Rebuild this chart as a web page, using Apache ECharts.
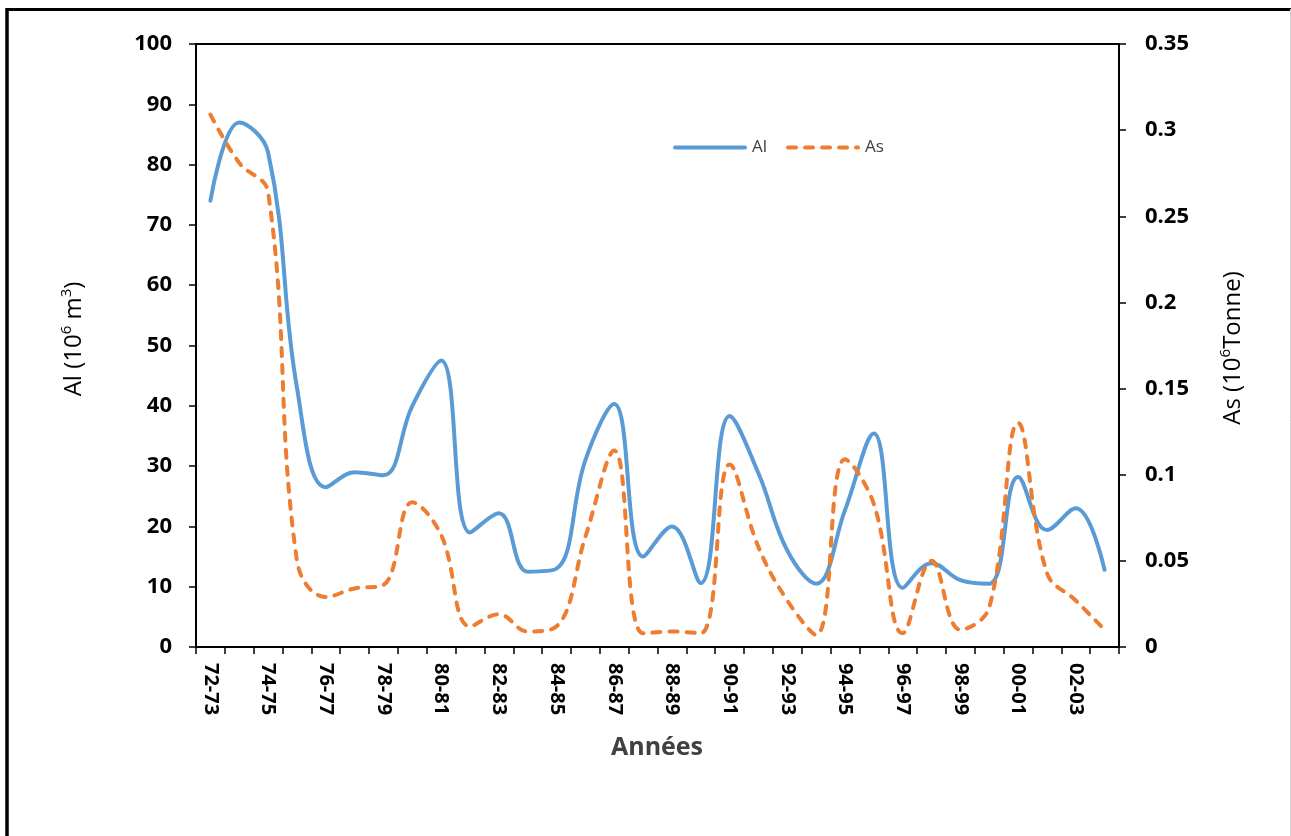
<!DOCTYPE html>
<html>
<head>
<meta charset="utf-8">
<script src="https://cdn.jsdelivr.net/npm/echarts@6/dist/echarts.min.js"></script>
<style>
  html, body { margin: 0; padding: 0; background: #fff; }
  #chart { width: 1291px; height: 836px; }
</style>
</head>
<body>
<div id="chart"></div>
<script>
// Hydrological years
const years = ['72-73','73-74','74-75','75-76','76-77','77-78','78-79','79-80','80-81','81-82',
  '82-83','83-84','84-85','85-86','86-87','87-88','88-89','89-90','90-91','91-92',
  '92-93','93-94','94-95','95-96','96-97','97-98','98-99','99-00','00-01','01-02',
  '02-03','03-04'];

// Al (10^6 m3), left axis
const alValues = [74, 87, 82, 43, 26.5, 29, 28.5, 40, 47.5, 19,
  22.2, 12.5, 13, 31, 40.3, 15, 20, 10.6, 38.3, 28.8,
  16, 10.5, 22.7, 35.4, 9.8, 13.9, 11.1, 10.5, 28.2, 19.4,
  23, 12.8];

// As (10^6 Tonne), right axis
const asValues = [0.309, 0.281, 0.264, 0.05, 0.029, 0.034, 0.036, 0.084, 0.065, 0.012,
  0.019, 0.009, 0.012, 0.064, 0.114, 0.008, 0.009, 0.008, 0.106, 0.058,
  0.027, 0.007, 0.109, 0.083, 0.008, 0.05, 0.010, 0.023, 0.130, 0.043,
  0.027, 0.010];

const FONT = '"Open Sans", "DejaVu Sans", sans-serif';

const chart = echarts.init(document.getElementById('chart'), null, { renderer: 'canvas' });

const axisLine = { show: true, onZero: false, lineStyle: { color: '#000', width: 2 } };
const axisTick = { show: true, inside: false, length: 7, lineStyle: { color: '#000', width: 1.5 } };
const tickLabel = { color: '#000', fontFamily: FONT, fontWeight: 'bold', fontSize: 22 };

const alLine = { color: '#5B9BD5', width: 4, cap: 'round', join: 'round' };
const asLine = { color: '#ED7D31', width: 4, type: [8, 9], cap: 'round', join: 'round' };

chart.setOption({
  animation: false,
  backgroundColor: '#fff',
  grid: {
    left: 196, right: 172, top: 44, bottom: 189,
    show: true, borderColor: '#000', borderWidth: 2, backgroundColor: 'transparent'
  },
  legend: {
    left: 673, top: 139, padding: 0,
    itemWidth: 70, itemHeight: 14, itemGap: 19,
    itemStyle: { opacity: 0 },
    lineStyle: { width: 4 },
    textStyle: { color: '#404040', fontFamily: FONT, fontSize: 17, padding: [0, 0, 0, 2] },
    data: ['Al', 'As']
  },
  xAxis: {
    type: 'category',
    data: years,
    boundaryGap: true,
    axisLine: axisLine,
    axisTick: Object.assign({}, axisTick, { interval: 0, alignWithLabel: false }),
    axisLabel: Object.assign({}, tickLabel, { interval: 1, rotate: -90, margin: 16, fontSize: 20 }),
    splitLine: { show: false }
  },
  yAxis: [
    {
      type: 'value', min: 0, max: 100, interval: 10, position: 'left',
      axisLine: axisLine, axisTick: axisTick,
      axisLabel: Object.assign({}, tickLabel, { margin: 24 }),
      splitLine: { show: false }
    },
    {
      type: 'value', min: 0, max: 0.35, interval: 0.05, position: 'right',
      axisLine: axisLine, axisTick: axisTick,
      axisLabel: Object.assign({}, tickLabel, { margin: 26 }),
      splitLine: { show: false }
    }
  ],
  series: [
    {
      name: 'Al', type: 'line', yAxisIndex: 0, data: alValues,
      smooth: 0.4, symbol: 'none', showSymbol: false,
      lineStyle: alLine,
      itemStyle: { color: '#5B9BD5' }
    },
    {
      name: 'As', type: 'line', yAxisIndex: 1, data: asValues,
      smooth: 0.4, symbol: 'none', showSymbol: false,
      lineStyle: asLine,
      itemStyle: { color: '#ED7D31' }
    }
  ],
  graphic: [
    // outer frame
    { type: 'line', shape: { x1: 7, y1: 9.5, x2: 1291, y2: 9.5 }, style: { stroke: '#000', lineWidth: 3 } },
    { type: 'line', shape: { x1: 7, y1: 8, x2: 7, y2: 836 }, style: { stroke: '#000', lineWidth: 3.5 } },
    { type: 'line', shape: { x1: 1290.5, y1: 9, x2: 1290.5, y2: 836 }, style: { stroke: '#d0d0d0', lineWidth: 1 } },
    // axis titles
    {
      type: 'text', x: 657, y: 748,
      style: {
        text: 'Années', fill: '#404040', font: 'bold 25px ' + FONT,
        textAlign: 'center', textVerticalAlign: 'middle'
      }
    },
    {
      type: 'text', x: 74, y: 339, rotation: Math.PI / 2,
      style: {
        text: 'Al (10{sup|6} m{sup|3})', fill: '#000', fontFamily: FONT, fontSize: 24,
        lineHeight: 30, textAlign: 'center', textVerticalAlign: 'middle',
        rich: {
          sup: { fontFamily: FONT, fontSize: 15, lineHeight: 15, verticalAlign: 'top', fill: '#000' }
        }
      }
    },
    {
      type: 'text', x: 1233, y: 348, rotation: Math.PI / 2,
      style: {
        text: 'As (10{sup|6}Tonne)', fill: '#000', fontFamily: FONT, fontSize: 24,
        lineHeight: 30, textAlign: 'center', textVerticalAlign: 'middle',
        rich: {
          sup: { fontFamily: FONT, fontSize: 15, lineHeight: 15, verticalAlign: 'top', fill: '#000' }
        }
      }
    }
  ]
});
</script>
</body>
</html>
